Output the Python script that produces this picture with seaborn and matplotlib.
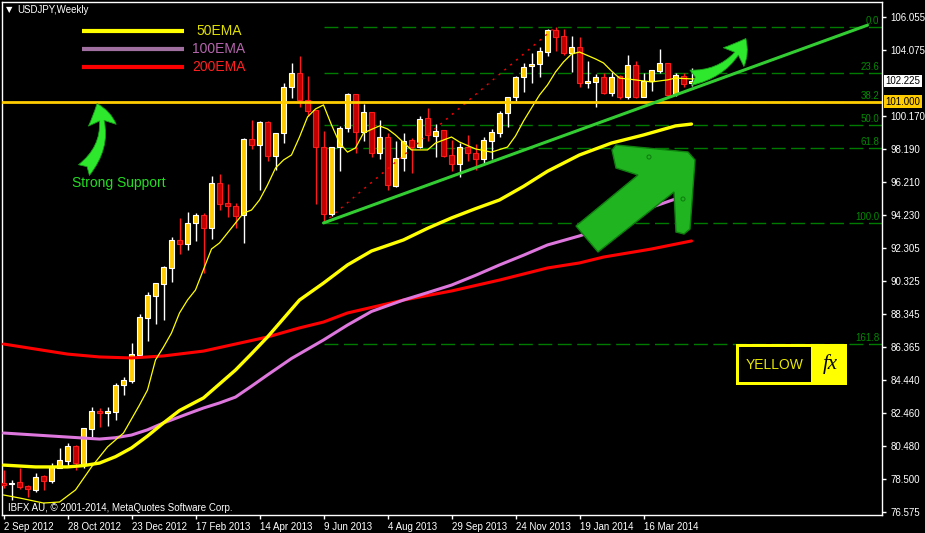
import matplotlib
matplotlib.use("Agg")
import matplotlib.pyplot as plt
import numpy as np
import seaborn as sns
from matplotlib.patches import Circle, FancyArrowPatch, Polygon, Rectangle
from matplotlib.transforms import blended_transform_factory

# weekly USDJPY candles, one per week starting 2 Sep 2012
opens = [78.28, 78.22, 78.34, 78.10, 77.87, 78.70, 78.40, 79.18, 79.59, 80.49,
         79.41, 81.50, 82.57, 82.45, 82.51, 84.12, 84.36, 85.91, 88.11, 89.42,
         90.13, 91.09, 92.76, 92.52, 93.77, 94.24, 93.47, 96.15, 94.96, 94.78,
         94.24, 98.77, 98.41, 99.78, 97.76, 99.13, 101.87, 102.70, 101.09, 100.50,
         98.29, 94.30, 98.29, 99.43, 101.45, 99.19, 100.38, 97.94, 98.89, 95.97,
         97.64, 98.71, 98.29, 100.02, 98.95, 99.31, 97.82, 97.28, 98.29, 97.94,
         97.58, 98.65, 99.13, 100.32, 101.27, 102.46, 103.12, 103.24, 103.95, 105.26,
         104.91, 103.89, 104.25, 102.11, 102.17, 102.46, 101.51, 102.52, 101.27, 103.18,
         101.27, 102.23, 102.82, 103.30, 101.45, 102.52, 102.11]
highs = [79.06, 78.46, 79.18, 78.16, 78.88, 78.76, 79.47, 80.37, 80.67, 80.55,
         81.56, 82.81, 82.75, 82.81, 84.24, 84.60, 86.62, 88.35, 89.66, 90.19,
         91.21, 92.93, 94.07, 94.42, 94.36, 94.36, 96.57, 96.69, 96.09, 94.96,
         98.83, 99.90, 99.84, 99.84, 99.13, 102.11, 103.30, 103.71, 102.52, 100.50,
         99.25, 98.29, 99.55, 101.51, 101.45, 100.86, 100.38, 99.90, 99.13, 98.65,
         99.13, 98.83, 100.14, 100.62, 99.66, 99.31, 98.71, 98.53, 99.01, 98.47,
         98.89, 99.37, 100.44, 101.27, 102.52, 103.30, 103.89, 104.25, 105.32, 105.44,
         105.32, 104.91, 104.85, 103.42, 102.64, 102.70, 102.76, 102.58, 103.77, 103.42,
         102.70, 102.88, 104.13, 103.30, 102.70, 102.70, 103.00]
lows = [77.98, 77.27, 77.92, 77.45, 77.75, 77.87, 78.28, 79.18, 79.24, 79.06,
        79.18, 81.02, 81.62, 81.68, 82.04, 83.52, 84.24, 85.79, 86.74, 87.75,
        87.99, 90.25, 91.92, 92.16, 92.70, 90.79, 92.82, 94.54, 94.13, 93.47,
        92.58, 98.18, 95.73, 97.46, 96.93, 98.53, 101.21, 100.68, 100.14, 94.90,
        93.77, 94.19, 96.87, 99.19, 97.94, 98.65, 97.70, 97.58, 95.73, 95.91,
        96.87, 96.75, 98.24, 98.65, 97.70, 97.70, 96.87, 96.51, 97.46, 96.93,
        97.34, 97.58, 98.89, 99.49, 101.03, 101.57, 102.11, 102.46, 103.71, 104.01,
        103.77, 102.76, 101.87, 101.81, 100.68, 101.45, 101.33, 101.15, 101.15, 101.21,
        101.27, 101.63, 102.70, 101.27, 101.33, 101.87, 101.93]
closes = [78.16, 78.28, 78.04, 77.92, 78.64, 78.40, 79.24, 79.65, 80.49, 79.47,
          81.56, 82.57, 82.45, 82.57, 84.12, 84.42, 85.97, 88.17, 89.48, 90.19,
          91.15, 92.76, 92.52, 93.77, 94.24, 93.47, 96.15, 94.90, 94.78, 94.19,
          98.77, 98.41, 99.78, 97.76, 99.13, 101.87, 102.70, 101.09, 100.44, 98.29,
          94.30, 98.29, 99.43, 101.45, 99.19, 100.38, 97.94, 98.89, 96.03, 97.64,
          98.65, 98.29, 99.96, 99.01, 99.25, 97.76, 97.28, 98.29, 97.94, 97.58,
          98.71, 99.19, 100.32, 101.27, 102.46, 103.06, 103.24, 104.01, 105.26, 104.85,
          103.89, 104.25, 102.11, 102.23, 102.46, 101.51, 102.46, 101.27, 103.18, 101.27,
          102.23, 102.88, 103.30, 101.39, 102.58, 102.05, 102.23]

# moving averages (week index, price)
fast_x = [0, 2, 5, 7, 9, 11, 13, 15, 17, 18, 19, 20, 21, 22, 23, 24, 26, 27, 29, 30,
          31, 32, 33, 34, 35, 36, 37, 38, 39, 40, 41, 42, 43, 44, 45, 47, 48, 49, 51, 53,
          54, 56, 57, 59, 61, 63, 64, 65, 66, 67, 68, 69, 70, 71, 72, 74, 75, 76, 77, 79,
          81, 83, 84, 86, 88]
fast_y = [77.57, 77.39, 77.09, 77.15, 77.87, 79.24, 80.43, 81.26, 82.93, 83.82, 85.61, 86.38,
          87.22, 88.41, 89.18, 89.78, 92.22, 92.58, 93.77, 94.36, 94.54, 95.14, 96.03, 97.04,
          97.52, 97.82, 98.89, 100.08, 100.56, 100.80, 99.61, 98.53, 97.99, 98.24, 99.13,
          99.55, 99.37, 99.01, 98.12, 98.12, 98.53, 98.89, 98.59, 98.18, 97.99, 98.29, 98.95,
          99.84, 100.62, 101.39, 101.99, 102.76, 103.36, 103.83, 103.95, 103.54, 103.30,
          102.82, 102.40, 102.29, 102.17, 102.29, 102.40, 102.35, 102.35]
ema50_x = [0, 4, 8, 10, 12, 14, 16, 18, 20, 22, 25, 27, 29, 31, 33, 35, 37, 40, 43, 46,
           50, 53, 56, 59, 62, 65, 68, 72, 76, 80, 84, 86]
ema50_y = [79.35, 79.24, 79.24, 79.32, 79.47, 79.85, 80.37, 81.08, 81.86, 82.60, 83.35,
           84.18, 85.01, 85.98, 86.98, 88.08, 89.18, 90.19, 91.27, 92.10, 92.76, 93.45,
           94.07, 94.62, 95.14, 95.95, 96.85, 97.82, 98.53, 99.01, 99.55, 99.66]
ema100_x = [0, 4, 8, 12, 14, 16, 18, 20, 23, 25, 27, 29, 31, 33, 36, 40, 43, 46, 50,
            53, 56, 59, 62, 65, 68, 72, 75, 80, 84, 86]
ema100_y = [81.26, 81.14, 81.02, 80.90, 80.98, 81.14, 81.45, 81.86, 82.40, 82.75, 83.05,
            83.40, 84.05, 84.72, 85.70, 86.80, 87.69, 88.50, 89.18, 89.62, 90.07, 90.65,
            91.27, 91.85, 92.46, 93.00, 93.47, 94.54, 95.20, 95.38]
ema200_x = [0, 4, 8, 12, 16, 20, 25, 29, 33, 37, 40, 43, 47, 50, 56, 62, 68, 72, 75, 81, 86]
ema200_y = [86.56, 86.26, 85.96, 85.79, 85.73, 85.85, 86.14, 86.56, 86.98, 87.52, 87.87,
            88.41, 88.85, 89.18, 89.72, 90.37, 91.09, 91.39, 91.74, 92.22, 92.70]

# fibonacci retracement drawn from the week-40 low to the week-69 high
fib_labels = ["0.0", "23.6", "38.2", "50.0", "61.8", "100.0", "161.8"]
fib_prices = [105.44, 102.70, 100.98, 99.61, 98.23, 93.77, 86.56]
fib_start = 40
fib_diag_x = [40, 69]
fib_diag_y = [93.77, 105.44]
trend_x = [40, 108]
trend_y = [93.77, 105.55]
support = 101.000
last_price = 102.225

xtick_idx = [0, 8, 16, 24, 32, 40, 48, 56, 64, 72, 80]
xtick_labels = ["2 Sep 2012", "28 Oct 2012", "23 Dec 2012", "17 Feb 2013", "14 Apr 2013",
                "9 Jun 2013", "4 Aug 2013", "29 Sep 2013", "24 Nov 2013", "19 Jan 2014",
                "16 Mar 2014"]
ytick_vals = [106.055, 104.075, 100.170, 98.190, 96.210, 94.230, 92.305, 90.325,
              88.345, 86.365, 84.440, 82.460, 80.480, 78.500, 76.575]

sns.set_theme(style="ticks")
plt.rcParams["font.family"] = ["Liberation Sans", "DejaVu Sans"]

W, H = 925, 533
fig = plt.figure(figsize=(W / 100, H / 100), dpi=100, facecolor="black")
ax = fig.add_axes([2 / W, 18 / H, 880 / W, 513 / H])
ax.set_facecolor("black")
ax.set_xlim(-0.1875, 109.8125)
ax.set_ylim(76.377, 106.93)
for sp in ax.spines.values():
    sp.set_color("white")
    sp.set_linewidth(1)

# candles
o, h, l, c = map(np.array, (opens, highs, lows, closes))
idx = np.arange(len(o))
up = c >= o
lo_body = np.minimum(o, c)
h_body = np.maximum(np.abs(c - o), 0.07)
ax.vlines(idx[up], l[up], h[up], color="white", lw=1, zorder=2)
ax.vlines(idx[~up], l[~up], h[~up], color="#ff1a1a", lw=1, zorder=2)
ax.bar(idx[up], h_body[up], bottom=lo_body[up], width=0.6, color="#ffcc00",
       edgecolor="white", linewidth=0.8, zorder=3)
ax.bar(idx[~up], h_body[~up], bottom=lo_body[~up], width=0.6, color="#c00000",
       edgecolor="#ff1a1a", linewidth=0.8, zorder=3)

# fib levels
tr = blended_transform_factory(ax.transAxes, ax.transData)
ax.hlines(fib_prices, fib_start, ax.get_xlim()[1], colors="#007a00", lw=1,
          linestyles=(0, (10, 4)), zorder=1)
for lab, p in zip(fib_labels, fib_prices):
    ax.text(0.997, p + 0.08, lab, transform=tr, ha="right", va="bottom",
            color="#008a00", fontsize=7)
ax.plot(fib_diag_x, fib_diag_y, color="#ff0000", lw=1, ls=(0, (1.5, 4)), zorder=4)

# moving averages
sns.lineplot(x=ema200_x, y=ema200_y, ax=ax, color="#ff0000", linewidth=2.2, zorder=4)
sns.lineplot(x=ema100_x, y=ema100_y, ax=ax, color="#dd77dd", linewidth=2.2, zorder=4)
sns.lineplot(x=ema50_x, y=ema50_y, ax=ax, color="#ffff00", linewidth=2.4, zorder=4)
sns.lineplot(x=fast_x, y=fast_y, ax=ax, color="#ffff00", linewidth=0.9, zorder=5)

ax.axhline(support, color="#ffcc00", lw=2, zorder=5)
ax.plot(trend_x, trend_y, color="#33cc33", lw=2.2, zorder=5)

# axes ticks
ax.yaxis.tick_right()
ax.set_yticks(ytick_vals)
ax.set_yticklabels([f"{v:.3f}" for v in ytick_vals])
ax.set_xticks(xtick_idx)
ax.set_xticklabels(xtick_labels, ha="left")
ax.tick_params(axis="y", colors="white", labelsize=7, length=3, width=1, pad=3,
               right=True, left=False)
ax.tick_params(axis="x", colors="white", labelsize=7, length=3, width=1, pad=2,
               bottom=True)
ax.text(1.004, last_price, f"{last_price:.3f}", transform=tr, ha="left", va="center",
        fontsize=7, color="black", zorder=6,
        bbox=dict(boxstyle="square,pad=0.15", fc="white", ec="none"))
ax.text(1.004, support, f"{support:.3f}", transform=tr, ha="left", va="center",
        fontsize=7, color="black", zorder=6,
        bbox=dict(boxstyle="square,pad=0.15", fc="#ffcc00", ec="none"))
ax.set_xlabel("")
ax.set_ylabel("")

# annotations layer in pixel space
deco = fig.add_axes([0, 0, 1, 1])
deco.set_xlim(0, W)
deco.set_ylim(H, 0)
deco.axis("off")
deco.patch.set_alpha(0)
deco.set_zorder(5)

deco.text(6, 10, "\u25bc", color="white", fontsize=6, family="DejaVu Sans", va="center")
deco.text(17, 10, "USDJPY,Weekly", color="white", fontsize=7, va="center")
deco.text(8, 508, "IBFX AU, \u00a9 2001-2014, MetaQuotes Software Corp.", color="white",
          fontsize=7, va="center")

for yy, lc, tc, lab, tx in [(31, "#ffff00", "#e0e000", "50EMA", 196),
                            (49, "#a070a0", "#b565ae", "100EMA", 192),
                            (67, "#ff0000", "#ff2020", "200EMA", 192)]:
    deco.plot([82, 184], [yy, yy], color=lc, lw=3, solid_capstyle="butt")
    deco.text(tx, yy, lab, color=tc, fontsize=10, va="center")

deco.text(72, 183, "Strong Support", color="#22dd22", fontsize=10, va="center")
deco.add_patch(FancyArrowPatch((82, 172), (96, 101), connectionstyle="arc3,rad=0.35",
                               arrowstyle="fancy,head_length=0.8,head_width=1.0,tail_width=0.55",
                               mutation_scale=20, fc="#2ee82e", ec="#18a018", lw=0.6))
deco.add_patch(FancyArrowPatch((688, 78), (747, 36), connectionstyle="arc3,rad=0.3",
                               arrowstyle="fancy,head_length=0.8,head_width=1.0,tail_width=0.55",
                               mutation_scale=20, fc="#2ee82e", ec="#18a018", lw=0.6))

big_arrow = [(576, 226), (638, 175), (616, 168), (612, 150), (616, 145), (688, 152),
             (695, 160), (690, 229), (684, 234), (676, 232), (674, 192), (598, 252)]
deco.add_patch(Polygon(big_arrow, closed=True, fc="#20b420", ec="#0f800f", lw=1))
deco.add_patch(Circle((649, 157), 2, fc="none", ec="#0f800f", lw=0.8))
deco.add_patch(Circle((683, 199), 2, fc="none", ec="#0f800f", lw=0.8))

# logo
deco.add_patch(Rectangle((736, 344), 111, 41, fc="#ffff00", ec="none"))
deco.add_patch(Rectangle((739, 347), 72, 35, fc="black", ec="none"))
deco.text(775, 365, "YELLOW", color="#e8e800", fontsize=10, ha="center", va="center")
deco.text(830, 364, "fx", color="black", fontsize=15, ha="center", va="center",
          family="Liberation Serif", style="italic")

fig.savefig("out.png", dpi=100, facecolor="black")
